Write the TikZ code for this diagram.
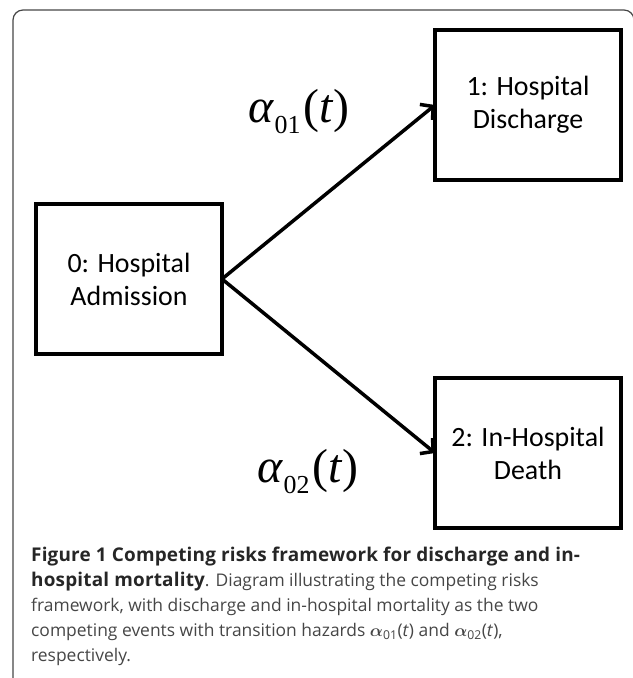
\documentclass[tikz,border=0pt]{standalone}
\usepackage{fontspec}
\setmainfont{Open Sans}
\newfontfamily\boxfont{Carlito}
\newfontfamily\ratefont{Liberation Serif}
\usetikzlibrary{arrows.meta,positioning}
\definecolor{framegray}{RGB}{70,70,70}
\definecolor{captext}{RGB}{70,70,70}
% transition hazard label
\newcommand{\hazardlabel}[1]{{\ratefont\itshape α}\kern1bp\raisebox{-11bp}{\ratefont\fontsize{26}{26}\selectfont #1}\kern3bp{\ratefont(\textit{t})}}
% bold part of the caption
\newcommand{\capbold}[1]{{\bfseries\fontsize{19}{25}\selectfont\addfontfeature{LetterSpace=1}\color{black!85}#1}}

\begin{document}
\begin{tikzpicture}[x=1bp, y=-1bp,
  state/.style={draw, line width=4bp, minimum width=186bp, minimum height=150bp,
    inner sep=0pt, outer sep=0pt, align=center, font=\boxfont\fontsize{28}{33}\selectfont},
  hazard/.style={line width=3.5bp, line cap=round,
    -{Straight Barb[length=9bp,width=20bp,line width=3.5bp]}},
  rate/.style={inner sep=0pt, font=\ratefont\fontsize{48}{48}\selectfont}]
\useasboundingbox (0,0) rectangle (633,678);
% frame round the figure
\draw[framegray, line width=1.2bp, rounded corners=10bp] (13,680) -- (13,10) -- (634,10) -- (634,680);
% states
\node[state] (admit) at (129,279) {0: Hospital\\Admission};
\node[state] (disch) at (528,105) {1: Hospital\\ Discharge};
\node[state] (death) at (528,453) {2: In-Hospital\\Death};
% transitions
\draw[hazard] (admit.east) -- (disch.west);
\draw[hazard] (admit.east) -- (death.west);
\node[rate] (a01) at (299,112) {\hazardlabel{01}};
\node[rate] (a02) at (308,472) {\hazardlabel{02}};
% caption
\node[anchor=north west, align=left, inner sep=0pt, text=captext,
  font=\fontsize{17.5}{25}\selectfont] (caption) at (31,547)
  {\capbold{Figure 1 Competing risks framework for discharge and in-}\\
   \capbold{hospital mortality}. Diagram illustrating the competing risks\\
   framework, with discharge and in-hospital mortality as the two\\
   competing events with transition hazards {\boldmath$\alpha$}\textsubscript{01}(\textit{t}) and {\boldmath$\alpha$}\textsubscript{02}(\textit{t}),\\
   respectively.};
\end{tikzpicture}
\end{document}
